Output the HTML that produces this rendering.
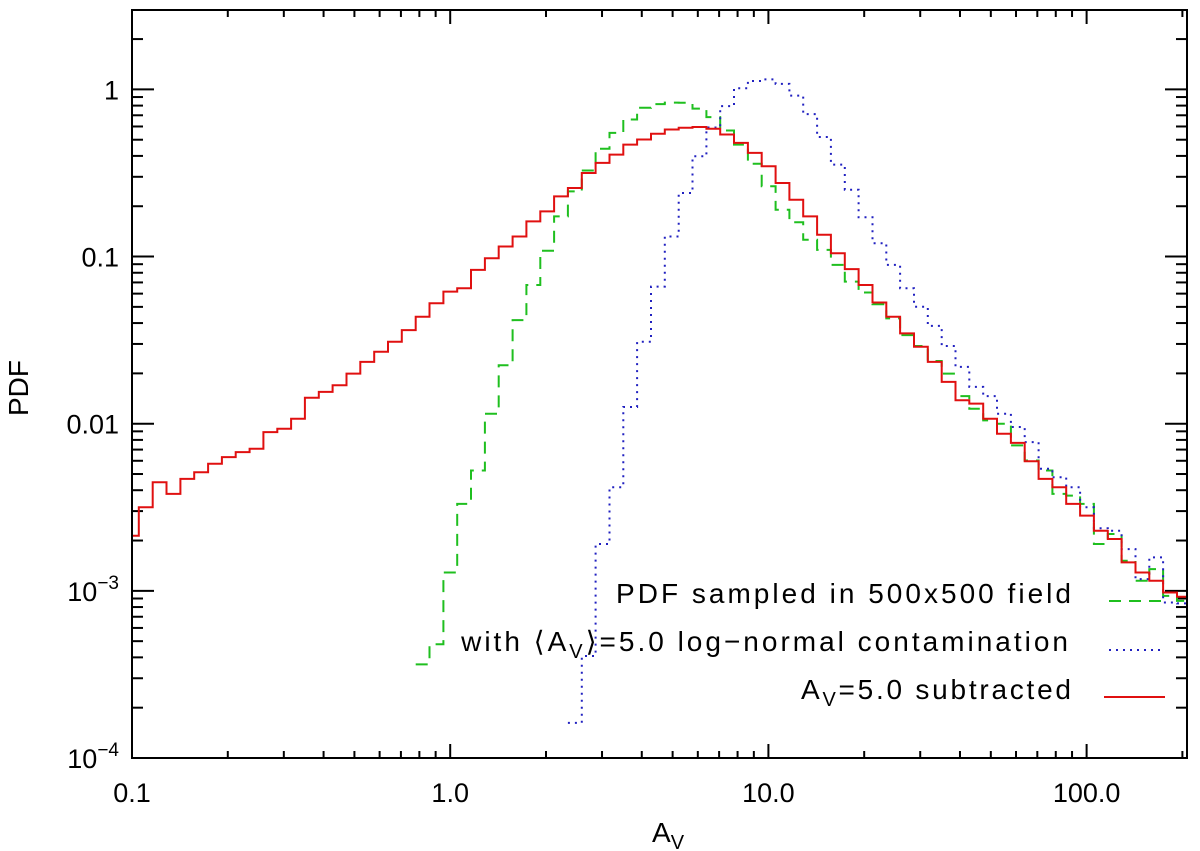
<!DOCTYPE html>
<html><head><meta charset="utf-8"><style>
html,body{margin:0;padding:0;background:#fff;}
svg{display:block;font-family:"Liberation Sans",sans-serif;}
</style></head><body>
<svg id="chart" width="1200" height="851" viewBox="0 0 1200 851" xmlns="http://www.w3.org/2000/svg">
<defs><clipPath id="plotclip"><rect x="132" y="10" width="1055" height="748"/></clipPath></defs>
<rect x="0" y="0" width="1200" height="851" fill="#fff"/>
<g id="ticks"></g>
<g id="series" clip-path="url(#plotclip)"></g>
<rect x="132" y="10" width="1055" height="748" fill="none" stroke="#000" stroke-width="2"/>
<g id="labels" font-size="27" fill="#000"></g>
<text transform="translate(28,388) rotate(-90)" text-anchor="middle" font-size="28">PDF</text>
<text x="652" y="842" font-size="28">A<tspan font-size="20" dy="7">V</tspan></text>
<g font-size="28" fill="#000">
  <text x="616" y="603" textLength="455" lengthAdjust="spacing">PDF sampled in 500x500 field</text>
  <text x="1071" y="651" text-anchor="end" letter-spacing="3">with ⟨A<tspan font-size="20" dy="7">V</tspan><tspan dy="-7">⟩=5.0 log−normal contamination</tspan></text>
  <text x="801" y="699" textLength="270" lengthAdjust="spacing">A<tspan font-size="20" dy="7">V</tspan><tspan dy="-7">=5.0 subtracted</tspan></text>
  <line x1="1109" y1="601" x2="1165" y2="601" stroke="#1fbf1f" stroke-width="2" stroke-dasharray="12,8"/>
  <line x1="1109" y1="650" x2="1165" y2="650" stroke="#2020c0" stroke-width="2" stroke-dasharray="2,5"/>
  <line x1="1104" y1="697" x2="1165" y2="697" stroke="#e01010" stroke-width="2"/>
</g>
</svg>
<script>
// histogram bins (log10 Av): first bin edge and bin width
const binStartLog = -1.022;
const binWidthLog = 0.0435;
const redFirstBin = 0;
const redLogPdf = [-2.67,-2.50,-2.35,-2.42,-2.33,-2.29,-2.24,-2.20,-2.17,-2.15,-2.05,-2.03,-1.97,-1.845,-1.81,-1.77,-1.70,-1.63,-1.57,-1.51,-1.44,-1.36,-1.28,-1.21,-1.19,-1.08,-1.01,-0.94,-0.88,-0.79,-0.73,-0.64,-0.59,-0.50,-0.44,-0.39,-0.33,-0.30,-0.265,-0.24,-0.23,-0.225,-0.235,-0.27,-0.32,-0.38,-0.46,-0.56,-0.66,-0.76,-0.87,-0.98,-1.075,-1.17,-1.275,-1.36,-1.46,-1.54,-1.63,-1.75,-1.86,-1.88,-1.97,-2.06,-2.115,-2.225,-2.33,-2.38,-2.48,-2.55,-2.64,-2.69,-2.83,-2.89,-2.94,-3.01,-3.035,-3.3];
const greenFirstBin = 21;
const greenLogPdf = [-3.44,-3.32,-2.89,-2.48,-2.28,-1.94,-1.65,-1.38,-1.17,-0.965,-0.76,-0.61,-0.485,-0.355,-0.26,-0.18,-0.11,-0.088,-0.079,-0.08,-0.115,-0.166,-0.246,-0.33,-0.445,-0.58,-0.72,-0.795,-0.90,-0.96,-1.05,-1.15,-1.215,-1.285,-1.37,-1.47,-1.535,-1.625,-1.70,-1.835,-1.91,-1.98,-2.00,-2.13,-2.22,-2.28,-2.42,-2.43,-2.48,-2.72,-2.66,-2.82,-2.94,-2.87,-3.03,-3.06];
const blueFirstBin = 32;
const blueLogPdf = [-3.79,-3.39,-2.72,-2.38,-1.90,-1.51,-1.18,-0.88,-0.62,-0.40,-0.228,-0.10,0.007,0.05,0.06,0.033,-0.037,-0.148,-0.285,-0.45,-0.60,-0.765,-0.92,-1.05,-1.19,-1.30,-1.415,-1.535,-1.66,-1.78,-1.835,-1.94,-2.02,-2.11,-2.27,-2.32,-2.38,-2.50,-2.625,-2.64,-2.75,-2.93,-2.80,-3.07,-3.075];
const xTickValues = [0.1, 1, 10, 100];
const xTickLabels = ["0.1", "1.0", "10.0", "100.0"];
const yTickExps = [0, -1, -2, -3, -4];
const yTickLabels = ["1", "0.1", "0.01", "10|-3", "10|-4"];

const X0=132, X1=1187, XL0=-1, XL1=2.3155;
const Y0=758, Y1=10, YL0=-4, YL1=0.475;
function xPos(lg){return X0+(lg-XL0)/(XL1-XL0)*(X1-X0);}
function yPos(lg){return Y0-(lg-YL0)/(YL1-YL0)*(Y0-Y1);}
const NS="http://www.w3.org/2000/svg";
const series=document.getElementById('series');
function hist(first, vals, color, dash, name){
  let d="";
  vals.forEach((v,i)=>{
    const k=first+i;
    const xa=xPos(binStartLog+k*binWidthLog), xb=xPos(binStartLog+(k+1)*binWidthLog), y=yPos(v);
    d+=(i===0?"M":"L")+xa.toFixed(1)+","+y.toFixed(1)+"L"+xb.toFixed(1)+","+y.toFixed(1);
  });
  const p=document.createElementNS(NS,'path');
  p.setAttribute('d',d);p.setAttribute('fill','none');p.setAttribute('stroke',color);
  p.setAttribute('stroke-width','2');
  if(dash)p.setAttribute('stroke-dasharray',dash);
  
  
  series.appendChild(p);
}
hist(greenFirstBin, greenLogPdf, '#1fbf1f', '12,8', 'green-dashed-histogram');
hist(blueFirstBin, blueLogPdf, '#2020c0', '2,5', 'blue-dotted-histogram');
hist(redFirstBin, redLogPdf, '#e01010', null, 'red-solid-histogram');

const ticks=document.getElementById('ticks');
function ln(x1,y1,x2,y2){
  const l=document.createElementNS(NS,'line');
  l.setAttribute('x1',x1);l.setAttribute('y1',y1);l.setAttribute('x2',x2);l.setAttribute('y2',y2);
  l.setAttribute('stroke','#000');l.setAttribute('stroke-width','2');
  
  
  ticks.appendChild(l);
}
for(let e=-1;e<=2;e++){for(let m=1;m<=9;m++){
  const lg=e+Math.log10(m); if(lg>XL1) continue;
  const x=xPos(lg), len=(m===1)?14:7;
  ln(x,Y0,x,Y0-len); ln(x,Y1,x,Y1+len);
}}
for(let e=-4;e<=0;e++){for(let m=1;m<=9;m++){
  const lg=e+Math.log10(m); if(lg>YL1) continue;
  const y=yPos(lg), len=(m===1)?22:11;
  ln(X0,y,X0+len,y); ln(X1,y,X1-len,y);
}}
const labels=document.getElementById('labels');
xTickValues.forEach((v,i)=>{
  const t=document.createElementNS(NS,'text');
  t.setAttribute('x',xPos(Math.log10(v)));t.setAttribute('y',802);t.setAttribute('text-anchor','middle');
  t.textContent=xTickLabels[i];
  
  
  labels.appendChild(t);
});
yTickExps.forEach((e,i)=>{
  const t=document.createElementNS(NS,'text');
  t.setAttribute('x',119);t.setAttribute('y',yPos(e)+10);t.setAttribute('text-anchor','end');
  const parts=yTickLabels[i].split('|');
  if(parts.length===2){
    const a=document.createElementNS(NS,'tspan');a.textContent=parts[0];t.appendChild(a);
    const b=document.createElementNS(NS,'tspan');b.setAttribute('font-size','19');b.setAttribute('dy','-12');
    b.textContent=parts[1].replace('-','−');t.appendChild(b);
  } else t.textContent=parts[0];
  
  
  labels.appendChild(t);
});
</script>
</body></html>
